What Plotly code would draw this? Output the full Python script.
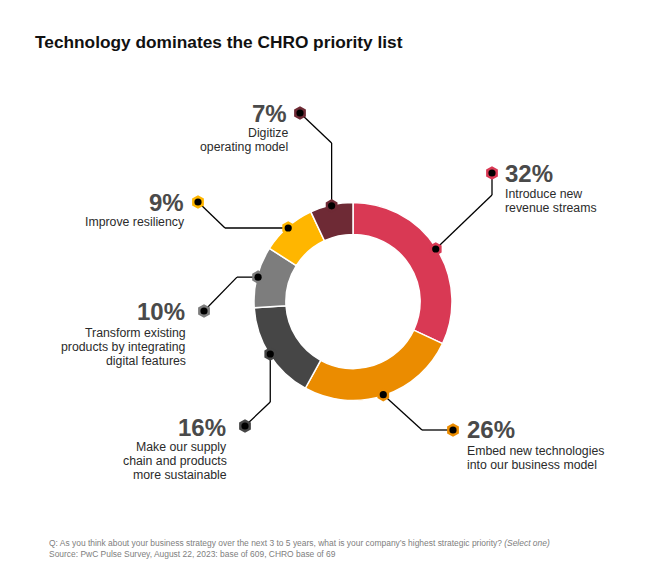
import math
import plotly.graph_objects as go

# ---------------- data ----------------
categories = [
    "Introduce new revenue streams",
    "Embed new technologies into our business model",
    "Make our supply chain and products more sustainable",
    "Transform existing products by integrating digital features",
    "Improve resiliency",
    "Digitize operating model",
]
values = [32, 26, 16, 10, 9, 7]
label_lines = [
    ["Introduce new", "revenue streams"],
    ["Embed new technologies", "into our business model"],
    ["Make our supply", "chain and products", "more sustainable"],
    ["Transform existing", "products by integrating", "digital features"],
    ["Improve resiliency"],
    ["Digitize", "operating model"],
]
title_text = "Technology dominates the CHRO priority list"
footer_q = ("Q: As you think about your business strategy over the next 3 to 5 years, "
            "what is your company\u2019s highest strategic priority? <i>(Select one)</i>")
footer_src = "Source: PwC Pulse Survey, August 22, 2023: base of 609, CHRO base of 69"

# ---------------- styles / layout ----------------
colors = ["#D93954", "#EB8C00", "#464646", "#7D7D7D", "#FFB600", "#6E2A35"]
W, H = 662, 582
OFF = 8  # page body margin: axis values below are in screen pixels
CX, CY, R_OUT = 353, 301.5, 99
HOLE = 0.678
R_MARK = 98
FONT = "Liberation Sans, Arial, sans-serif"

# callout geometry per slice: bend point (None -> take from marker), end hexagon, text anchor
callouts = [
    dict(bend=(492, 195), end=(492, 173), side="left", tx=503, ty=173, ly=194),
    dict(bend=(422, 430), end=(453, 430), side="left", tx=465, ty=429, ly=451),
    dict(bend=(None, 402), end=(245, 426), side="right", tx=228, ty=427, ly=447),
    dict(bend=(237, None), end=(204, 311), side="right", tx=187, ty=311, ly=333),
    dict(bend=(225, None), end=(198, 202), side="right", tx=186, ty=202, ly=222),
    dict(bend=(None, 143), end=(300, 113), side="right", tx=289, ty=113, ly=133),
]
LINE_STEP = 14.2


def hexagon_path(x, y, r):
    pts = []
    for k in range(6):
        a = math.radians(90 + 60 * k)
        pts.append((x + r * math.cos(a), y - r * math.sin(a)))
    return "M " + " L ".join(f"{px:.2f},{py:.2f}" for px, py in pts) + " Z"


fig = go.Figure()

fig.add_trace(go.Pie(
    labels=categories,
    values=values,
    sort=False,
    direction="clockwise",
    rotation=0,
    hole=HOLE,
    marker=dict(colors=colors, line=dict(color="white", width=1.5)),
    textinfo="none",
    hoverinfo="label+percent",
    showlegend=False,
    domain=dict(
        x=[(CX - OFF - R_OUT) / W, (CX - OFF + R_OUT) / W],
        y=[(H - (CY - OFF) - R_OUT) / H, (H - (CY - OFF) + R_OUT) / H],
    ),
))

# invisible trace to activate pixel-mapped axes
fig.add_trace(go.Scatter(x=[OFF, OFF + W], y=[OFF, OFF + H], mode="markers",
                         marker=dict(opacity=0), hoverinfo="skip", showlegend=False))

shapes = []
annotations = []
total = sum(values)
cum = 0
for i, v in enumerate(values):
    mid = (cum + v / 2) / total * 2 * math.pi
    cum += v
    mx = CX + R_MARK * math.sin(mid)
    my = CY - R_MARK * math.cos(mid)
    c = callouts[i]
    bx = c["bend"][0] if c["bend"][0] is not None else mx
    by = c["bend"][1] if c["bend"][1] is not None else my
    ex, ey = c["end"]
    line_style = dict(color="black", width=1.3)
    shapes.append(dict(type="line", xref="x", yref="y", x0=mx, y0=my, x1=bx, y1=by,
                       line=line_style, layer="above"))
    shapes.append(dict(type="line", xref="x", yref="y", x0=bx, y0=by, x1=ex, y1=ey,
                       line=line_style, layer="above"))
    for (hx, hy) in [(mx, my), (ex, ey)]:
        shapes.append(dict(type="path", xref="x", yref="y", path=hexagon_path(hx, hy, 6.8),
                           fillcolor=colors[i], line=dict(width=0), layer="above"))
        shapes.append(dict(type="circle", xref="x", yref="y",
                           x0=hx - 3.6, x1=hx + 3.6, y0=hy - 3.6, y1=hy + 3.6,
                           fillcolor="black", line=dict(width=0), layer="above"))
    anchor = "left" if c["side"] == "left" else "right"
    annotations.append(dict(
        x=c["tx"], y=c["ty"], xref="x", yref="y", xanchor=anchor, yanchor="middle",
        text=f"<b>{v}%</b>", showarrow=False,
        font=dict(family=FONT, size=24, color="#4a4a4a"),
    ))
    for j, t in enumerate(label_lines[i]):
        annotations.append(dict(
            x=c["tx"] + (0 if anchor == "left" else 1), y=c["ly"] + j * LINE_STEP,
            xref="x", yref="y", xanchor=anchor, yanchor="middle",
            text=t, showarrow=False, align=anchor,
            font=dict(family=FONT, size=12.3, color="#2b2b2b"),
        ))

annotations.append(dict(
    x=33, y=42, xref="x", yref="y", xanchor="left", yanchor="middle",
    text=f"<b>{title_text}</b>", showarrow=False,
    font=dict(family=FONT, size=17.3, color="#111111"),
))
annotations.append(dict(
    x=47, y=543, xref="x", yref="y", xanchor="left", yanchor="middle",
    text=footer_q, showarrow=False,
    font=dict(family=FONT, size=8.45, color="#808080"),
))
annotations.append(dict(
    x=47, y=554, xref="x", yref="y", xanchor="left", yanchor="middle",
    text=footer_src, showarrow=False,
    font=dict(family=FONT, size=8.45, color="#808080"),
))

fig.update_layout(
    width=W, height=H,
    margin=dict(l=0, r=0, t=0, b=0),
    paper_bgcolor="white", plot_bgcolor="white",
    xaxis=dict(range=[OFF, OFF + W], visible=False, fixedrange=True, domain=[0, 1]),
    yaxis=dict(range=[OFF + H, OFF], visible=False, fixedrange=True, domain=[0, 1]),
    shapes=shapes,
    annotations=annotations,
    showlegend=False,
)

fig.write_html("out.html", config={"displayModeBar": False})
